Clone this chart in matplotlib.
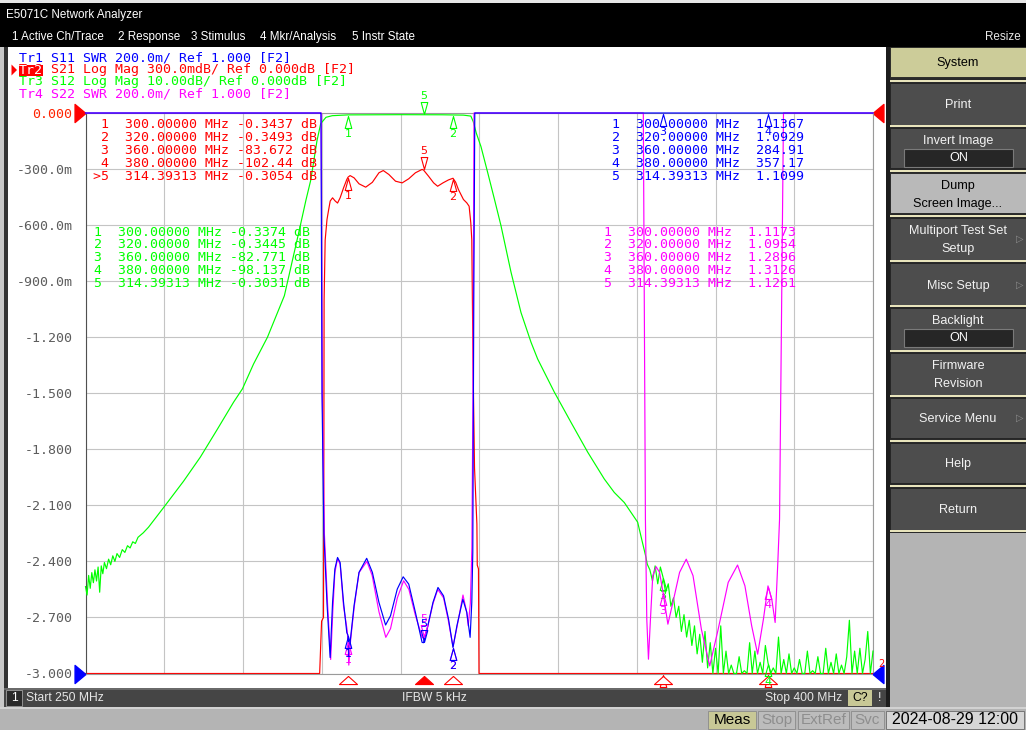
import matplotlib
matplotlib.use("Agg")
import matplotlib.pyplot as plt
import matplotlib.transforms as mtransforms
from matplotlib.patches import Rectangle, Polygon
import numpy as np

# ---------------- sweep settings ----------------
f_start, f_stop = 250.0, 400.0
ifbw = "5 kHz"

# ---------------- Tr1 S11 SWR (values above 3 sit on the top edge) ----------------
s11_f = [250.0, 280.0, 294.7, 294.85, 295.05, 295.4, 296.0, 296.6, 297.06, 297.5,
         298.01, 298.5, 299.15, 299.77, 300.0, 300.2, 300.4, 301.16, 302.1, 303.56,
         304.64, 305.89, 307.16, 308.1, 309.38, 310.51, 311.57, 312.84, 314.11, 314.39313,
         315.06, 316.19, 317.14, 318.2, 319.15, 320.0, 320.74, 321.88, 322.63, 323.26,
         323.58, 323.77, 323.96, 324.15, 340.0, 360.0, 380.0, 400.0]
s11_swr = [60.0, 30.0, 8.0, 3.0, 2.0, 1.5, 1.25, 1.057, 1.254, 1.373,
           1.414, 1.396, 1.254, 1.146, 1.1367, 1.09, 1.111, 1.243, 1.361, 1.411,
           1.361, 1.254, 1.173, 1.206, 1.301, 1.345, 1.319, 1.218, 1.111, 1.1099,
           1.158, 1.254, 1.307, 1.277, 1.194, 1.0929, 1.170, 1.265, 1.218, 1.129,
           1.254, 1.432, 2.33, 3.2, 120.0, 284.91, 357.17, 150.0]

# ---------------- Tr2 S21 log mag, dB (below -3 dB sits on the bottom edge) ----------------
s21_f = [250.0, 270.0, 285.0, 292.0, 294.6, 294.97, 295.33, 295.38, 295.45, 295.65,
         296.0, 296.3, 296.61, 297.06, 297.56, 298.01, 298.5, 299.15, 299.77, 300.0,
         300.4, 301.16, 302.1, 303.37, 304.64, 305.89, 306.72, 307.78, 309.05, 310.32,
         311.57, 312.84, 314.11, 314.39313, 315.36, 316.31, 317.07, 318.09, 319.15, 320.0,
         320.5, 321.04, 321.99, 322.63, 323.07, 323.39, 323.58, 323.8, 324.1, 324.55,
         324.62, 324.85, 324.95, 330.0, 340.0, 350.0, 360.0, 370.0, 380.0, 390.0, 400.0]
s21_db = [-85.0, -62.0, -38.0, -15.0, -5.0, -2.72, -2.70, -2.17, -1.0, -0.68,
          -0.57, -0.52, -0.471, -0.454, -0.471, -0.482, -0.454, -0.401, -0.356, -0.3437,
          -0.335, -0.347, -0.379, -0.397, -0.371, -0.320, -0.308, -0.329, -0.365, -0.374,
          -0.352, -0.320, -0.302, -0.3054, -0.339, -0.374, -0.392, -0.374, -0.358, -0.3493,
          -0.37, -0.410, -0.463, -0.481, -0.499, -0.588, -0.678, -1.3, -1.9, -2.2,
          -2.42, -2.44, -4.0, -25.0, -50.0, -68.0, -83.672, -97.0, -102.44, -104.0, -106.0]

# ---------------- Tr3 S12 log mag, dB ----------------
s12_f = [250.0, 250.3, 250.6, 250.9, 251.2, 251.5, 251.8, 252.1, 252.4, 252.7,
         253.0, 253.3, 253.6, 254.0, 254.4, 254.8, 255.2, 255.6, 256.0, 256.5,
         257.0, 257.5, 258.0, 258.5, 259.0, 259.5, 260.0, 261.0, 262.0, 264.87,
         268.67, 271.87, 275.0, 278.2, 279.9, 282.0, 284.66, 287.88, 290.7, 292.0,
         292.9, 294.1, 294.8, 295.8, 297.0, 298.5, 300.0, 305.0, 310.0, 314.39313,
         318.0, 320.0, 322.0, 323.4, 323.86, 324.43, 325.33, 326.6, 327.87, 329.14,
         331.05, 332.95, 334.86, 336.13, 339.3, 342.48, 345.65, 348.82, 350.72, 352.63,
         355.17, 356.76]
s12_db = [-84.5, -86.0, -82.5, -84.8, -82.0, -83.8, -81.5, -83.5, -81.0, -85.5,
          -80.8, -82.2, -80.2, -81.3, -79.6, -80.6, -79.0, -80.0, -78.6, -79.3,
          -77.9, -78.4, -77.2, -77.6, -76.5, -76.8, -75.7, -74.9, -73.9, -70.4,
          -65.7, -61.4, -56.6, -51.6, -49.2, -44.8, -40.0, -32.6, -21.0, -15.5,
          -12.0, -4.9, -1.9, -0.77, -0.48, -0.40, -0.3374, -0.31, -0.30, -0.3031,
          -0.32, -0.3445, -0.38, -0.55, -1.55, -3.57, -6.0, -10.6, -15.3, -20.1,
          -28.4, -35.6, -40.9, -43.9, -49.8, -55.2, -60.5, -65.3, -67.7, -69.5,
          -73.0, -79.3]
# noisy stop band, one reading every 0.5 MHz from 357 MHz to 400 MHz
s12_tail_db = [-80.5, -81.5, -83.5, -80.8, -84.0, -81.0, -82.8, -85.5, -84.0, -88.0,
               -86.5, -90.0, -88.0, -92.5, -89.5, -93.5, -90.5, -95.0, -91.5, -96.5,
               -93.0, -98.0, -92.5, -99.0, -94.5, -100.5, -95.5, -104.0, -91.5, -103.0,
               -96.0, -106.0, -98.5, -101.0, -105.0, -97.0, -108.0, -99.5, -104.0, -94.5,
               -102.0, -96.0, -107.0, -98.0, -103.0, -95.0, -98.1, -106.0, -99.0, -104.0,
               -93.5, -105.0, -97.5, -102.0, -96.5, -107.0, -99.0, -103.0, -97.5, -108.0,
               -100.0, -96.0, -105.0, -99.5, -106.0, -97.0, -103.0, -104.0, -95.5, -106.0,
               -98.0, -102.0, -96.5, -108.0, -98.5, -103.0, -97.0, -90.5, -106.0, -96.0,
               -101.0, -95.5, -107.0, -97.5, -92.5, -104.0, -96.0]
s12_tail_f = np.arange(357.0, 400.25, 0.5)

# ---------------- Tr4 S22 SWR ----------------
s22_f = [250.0, 280.0, 294.7, 294.9, 295.1, 295.5, 296.1, 296.7, 297.1, 297.5,
         298.0, 298.5, 299.15, 299.8, 300.0, 300.15, 300.5, 301.2, 302.1, 303.6,
         304.6, 305.9, 307.2, 308.1, 309.4, 310.6, 311.6, 312.8, 314.1, 314.39313,
         315.1, 316.2, 317.1, 318.2, 319.1, 320.0, 320.7, 321.9, 322.6, 322.9,
         323.3, 323.6, 323.8, 324.0, 340.0, 356.25, 356.65, 356.91, 357.23, 357.61,
         358.05, 358.69, 359.34, 360.0, 360.93, 361.89, 363.16, 364.43, 365.72, 367.31,
         368.9, 370.51, 372.42, 374.2, 375.6, 376.89, 378.03, 379.13, 380.0, 380.72,
         381.36, 381.87, 382.2, 382.95, 390.0, 400.0]
s22_swr = [60.0, 30.0, 8.0, 3.0, 2.0, 1.5, 1.25, 1.05, 1.22, 1.36,
           1.41, 1.39, 1.24, 1.16, 1.1173, 1.03, 1.12, 1.24, 1.36, 1.40,
           1.35, 1.22, 1.129, 1.16, 1.27, 1.331, 1.30, 1.21, 1.13, 1.1261,
           1.16, 1.25, 1.30, 1.27, 1.19, 1.0954, 1.16, 1.28, 1.22, 1.17,
           1.25, 1.45, 2.0, 3.2, 100.0, 3.0, 1.551, 1.194, 1.051, 1.194,
           1.349, 1.381, 1.361, 1.2896, 1.176, 1.254, 1.361, 1.408, 1.349, 1.158,
           1.027, 1.158, 1.325, 1.387, 1.313, 1.170, 1.069, 1.194, 1.3126, 1.265,
           1.182, 1.396, 1.551, 3.2, 80.0, 150.0]

# ---------------- marker table ----------------
mk_f = [300.0, 320.0, 360.0, 380.0, 314.39313]
mk_s11 = [1.1367, 1.0929, 284.91, 357.17, 1.1099]
mk_s21 = [-0.3437, -0.3493, -83.672, -102.44, -0.3054]
mk_s12 = [-0.3374, -0.3445, -82.771, -98.137, -0.3031]
mk_s22 = [1.1173, 1.0954, 1.2896, 1.3126, 1.1261]
active_mk = 5

# graticule scales (bottom, top)
scale_s21 = (-3.0, 0.0)    # 300 mdB/div, ref 0 dB at top
scale_s12 = (-100.0, 0.0)  # 10 dB/div, ref 0 dB at top
scale_swr = (1.0, 3.0)     # 200 m/div, ref 1.000 at bottom

y_ticklabels = ["-3.000", "-2.700", "-2.400", "-2.100", "-1.800", "-1.500",
                "-1.200", "-900.0m", "-600.0m", "-300.0m", "0.000"]

trace_names = ["Tr1", "Tr2", "Tr3", "Tr4"]
trace_desc = ["S11 SWR 200.0m/ Ref 1.000 [F2]",
              "S21 Log Mag 300.0mdB/ Ref 0.000dB [F2]",
              "S12 Log Mag 10.00dB/ Ref 0.000dB [F2]",
              "S22 SWR 200.0m/ Ref 1.000 [F2]"]
menu_bar = ["1 Active Ch/Trace", "2 Response", "3 Stimulus", "4 Mkr/Analysis", "5 Instr State"]
softkeys = ["System", "Print", "Invert Image", "Dump\nScreen Image...", "Multiport Test Set\nSetup",
            "Misc Setup", "Backlight", "Firmware\nRevision", "Service Menu", "Help", "Return"]
status_keys = ["Meas", "Stop", "ExtRef", "Svc"]
clock = "2024-08-29 12:00"

# ---------------- look ----------------
BLUE, RED, GREEN, MAG = '#0000ff', '#ff0000', '#00ff00', '#ff00ff'
MONO, UI = 'DejaVu Sans Mono', 'Liberation Sans'
KEY = '#4d4d4d'
W, H = 1026, 730

fig = plt.figure(figsize=(W / 100, H / 100), dpi=100, facecolor='black')
# top-down pixel coordinates for the instrument chrome
PX = mtransforms.Affine2D().scale(1 / W, -1 / H).translate(0, 1) + fig.transFigure


def box(x0, y0, x1, y1, fc, ec='none', lw=0, z=-1):
    fig.patches.append(Rectangle((x0, y0), x1 - x0, y1 - y0, transform=PX,
                                 facecolor=fc, edgecolor=ec, linewidth=lw, zorder=z))


def say(x, y, s, **kw):
    kw.setdefault('va', 'center')
    return fig.text(x, y, s, transform=PX, **kw)


# ---- window frame ----
box(0, 0, W, 3, '#e6e6e6')
say(6, 15, "E5071C Network Analyzer", color='white', fontsize=8.4, family=UI)
for txt, x in zip(menu_bar, [11.5, 118, 191, 260, 352]):
    say(x, 37, txt, color='white', fontsize=8.4, family=UI)
say(1021, 37, "Resize", color='#e8e8e8', fontsize=8.4, family=UI, ha='right')

box(0, 47, 4, 730, '#c8c8c8')
box(4, 47, 8, 707, '#333333')
box(8, 47, 886, 688, 'white')

# ---- trace header lines ----
for i, (nm, desc) in enumerate(zip(trace_names, trace_desc)):
    col = [BLUE, RED, GREEN, MAG][i]
    say(19, 58 + 12 * i, nm + " " + desc, color=col, fontsize=9.5, family=MONO)
box(19, 64.5, 43, 76, RED, z=-0.5)
say(19, 70, trace_names[1], color='white', fontsize=9.5, family=MONO)
fig.patches.append(Polygon([(11.5, 64.5), (17, 70), (11.5, 75.5)], closed=True,
                           transform=PX, facecolor=RED, edgecolor='none'))

# ---- graticule ----
rect = [85.5 / W, 1 - 673.5 / H, (873 - 85.5) / W, (673.5 - 113) / H]
ax = fig.add_axes(rect)          # Tr2 scale carries grid and labels
axg = fig.add_axes(rect)         # Tr3
axs = fig.add_axes(rect)         # Tr1 / Tr4

ax.set_xlim(f_start, f_stop)
ax.set_ylim(*scale_s21)
ax.set_xticks(np.linspace(f_start, f_stop, 11))
ax.set_xticklabels([])
ax.set_yticks(np.linspace(scale_s21[0], scale_s21[1], 11), labels=y_ticklabels,
              fontfamily=MONO, fontsize=9.5, color='#5c5c5c')
ax.get_yticklabels()[-1].set_color('#ff2200')
ax.tick_params(length=0)
ax.tick_params(axis='y', pad=9.5)
ax.grid(True, color='#c4c4c4', lw=0.8)
ax.set_facecolor('white')
for side in ['top', 'right', 'bottom']:
    ax.spines[side].set_color('#9a9a9a')
ax.spines['left'].set_color('#505050')
for a in (ax, axg, axs):
    a.spines[:].set_linewidth(0.8)

axg.set_xlim(f_start, f_stop)
axg.set_ylim(*scale_s12)
axg.axis('off')
axs.set_xlim(f_start, f_stop)
axs.set_ylim(*scale_swr)
axs.axis('off')

# traces, clipped to the graticule edge like the analyzer does
lw = 0.85
axg.plot(np.r_[s12_f, s12_tail_f], np.clip(np.r_[s12_db, s12_tail_db], *scale_s12),
         color=GREEN, lw=lw, clip_on=False)
ax.plot(s21_f, np.clip(s21_db, *scale_s21), color=RED, lw=lw, clip_on=False)
axs.plot(s22_f, np.clip(s22_swr, *scale_swr), color=MAG, lw=lw, clip_on=False)
axs.plot(s11_f, np.clip(s11_swr, *scale_swr), color=BLUE, lw=lw, clip_on=False)

# ---- markers ----
TRI_UP = [(0, 1), (-0.55, -1), (0.55, -1), (0, 1)]
TRI_DN = [(0, -1), (-0.55, 1), (0.55, 1), (0, -1)]
TRI_WIDE = [(0, 0.45), (-1, -0.45), (1, -0.45), (0, 0.45)]
REF_R = [(0.6, 0), (-0.6, 1), (-0.6, -1), (0.6, 0)]
REF_L = [(-0.6, 0), (0.6, 1), (0.6, -1), (-0.6, 0)]


def put_marker(a, f, v, num, color, lo, hi):
    above = (num == active_mk)
    show_label = True
    if v > hi:
        base = mtransforms.blended_transform_factory(a.transData, a.transAxes)
        v, above = 1.0, False
    elif v < lo:
        base = mtransforms.blended_transform_factory(a.transData, a.transAxes)
        v, above, show_label = 0.0, False, False
    else:
        base = a.transData
    s = 1 if above else -1
    t_tri = mtransforms.offset_copy(base, fig=fig, x=0, y=s * 7, units='dots')
    t_lab = mtransforms.offset_copy(base, fig=fig, x=0, y=s * 19, units='dots')
    a.plot([f], [v], transform=t_tri, ls='none', marker=TRI_DN if above else TRI_UP,
           ms=8.6, mfc='none', mec=color, mew=0.8, clip_on=False)
    if show_label:
        a.text(f, v, str(num), transform=t_lab, color=color, ha='center', va='center',
               fontsize=8, family='DejaVu Sans', clip_on=False)


for k in range(5):
    put_marker(axg, mk_f[k], mk_s12[k], k + 1, GREEN, *scale_s12)
    put_marker(ax, mk_f[k], mk_s21[k], k + 1, RED, *scale_s21)
    put_marker(axs, mk_f[k], mk_s22[k], k + 1, MAG, *scale_swr)
    put_marker(axs, mk_f[k], mk_s11[k], k + 1, BLUE, *scale_swr)

# stimulus markers of the active trace under the graticule
bot = mtransforms.blended_transform_factory(ax.transData, ax.transAxes)
bot_tri = mtransforms.offset_copy(bot, fig=fig, x=0, y=-6.5, units='dots')
for k, f in enumerate(mk_f):
    filled = (k + 1 == active_mk)
    ax.plot([f], [0], transform=bot_tri, ls='none', marker=TRI_WIDE, ms=13,
            mfc=RED if filled else 'white', mec=RED, mew=0.8, clip_on=False)

# reference level arrows
for a, yv, col in [(ax, scale_s21[1], RED), (axs, scale_swr[0], BLUE)]:
    side = mtransforms.blended_transform_factory(a.transAxes, a.transData)
    a.plot([0], [yv], transform=mtransforms.offset_copy(side, fig=fig, x=-5.4, y=0, units='dots'),
           ls='none', marker=REF_R, ms=13, color=col, clip_on=False)
    a.plot([1], [yv], transform=mtransforms.offset_copy(side, fig=fig, x=5.4, y=0, units='dots'),
           ls='none', marker=REF_L, ms=13, color=col, clip_on=False)
say(881, 664, "2", color=RED, fontsize=7, family='DejaVu Sans', ha='center')

# ---- marker readouts ----
def fmt(v):
    return f"{v:.5g}"


for k in range(5):
    n = k + 1
    flag = '>' if n == active_mk else ' '
    y1 = 125 + 12.9 * k
    y2 = 232 + 12.9 * k
    say(93, y1, f"{flag}{n}  {mk_f[k]:.5f} MHz {fmt(mk_s21[k]):>7} dB", color=RED, fontsize=9.5, family=MONO)
    say(612, y1, f"{n}  {mk_f[k]:.5f} MHz  {fmt(mk_s11[k]):>6}", color=BLUE, fontsize=9.5, family=MONO)
    say(94, y2, f"{n}  {mk_f[k]:.5f} MHz {fmt(mk_s12[k]):>7} dB", color=GREEN, fontsize=9.5, family=MONO)
    say(604, y2, f"{n}  {mk_f[k]:.5f} MHz  {fmt(mk_s22[k]):>6}", color=MAG, fontsize=9.5, family=MONO)

# ---- channel status bar ----
box(4, 688, 886, 707, '#454545')
box(4, 688, 886, 689.5, '#6a6a6a')
box(6, 690, 22, 706, '#2a2a2a', ec='#a0a0a0', lw=0.6)
say(14, 698, "1", color='white', fontsize=8.7, family=UI, ha='center')
say(26, 698, f"Start {f_start:.0f} MHz", color='#e6e6e6', fontsize=8.7, family=UI)
say(434, 698, f"IFBW {ifbw}", color='#e6e6e6', fontsize=8.7, family=UI, ha='center')
say(842, 698, f"Stop {f_stop:.0f} MHz", color='#e6e6e6', fontsize=8.7, family=UI, ha='right')
box(848, 690, 872, 706, '#c8c896')
say(860, 698, "C?", color='black', fontsize=8.7, family=UI, ha='center')
say(880, 698, "!", color='white', fontsize=8.7, family=UI, ha='center')

# ---- instrument status bar ----
box(0, 707, W, 730, '#b4b4b4')
box(0, 707, W, 709, '#d2d2d2')
for txt, (x0, x1) in zip(status_keys, [(708, 756), (758, 795), (798, 849), (851, 884)]):
    on = txt == "Meas"
    box(x0, 711, x1, 729, '#c8c896' if on else '#bcbcbc', ec='#8a8a8a', lw=0.6)
    say((x0 + x1) / 2, 720, txt, color='black' if on else '#8e8e8e', fontsize=11, family=UI, ha='center')
box(886, 711, 1024, 729, '#d6d6d6', ec='#6a6a6a', lw=0.6)
say(955, 720, clock, color='black', fontsize=11.5, family=UI, ha='center')

# ---- softkey column ----
box(886, 47, 890, 707, '#1c1c1c')
box(890, 47, W, 533, '#2a2a2a')
box(890, 533, W, 707, '#b4b4b4')
key_tops = [47, 83, 128, 173, 218, 263, 308, 353, 398, 443, 488]
key_bots = [77, 125, 168, 213, 260, 307, 350, 395, 438, 483, 530]
for k, (lab, y0, y1) in enumerate(zip(softkeys, key_tops, key_bots)):
    face, ink = KEY, '#f2f2f2'
    if k == 0:
        face, ink = '#cccc99', 'black'
    elif k == 3:
        face, ink = '#b9b9b9', 'black'
    if k > 0:
        box(890, y0 - 3, W, y0 - 1.5, '#e8e4bc')
    box(890, y0, W, y1, face, ec='#222222', lw=0.6)
    lines = lab.split("\n")
    if lab in ("Invert Image", "Backlight"):
        say(958, y0 + 13, lab, color=ink, fontsize=9.1, family=UI, ha='center')
        box(904, y0 + 21, 1013, y0 + 39, '#262626', ec='#7a7a7a', lw=0.8)
        say(958.5, y0 + 30, "ON", color='white', fontsize=9.1, family=UI, ha='center')
    elif len(lines) == 2:
        say(958, y0 + 13, lines[0], color=ink, fontsize=9.1, family=UI, ha='center')
        say(958, y0 + 31, lines[1], color=ink, fontsize=9.1, family=UI, ha='center')
    else:
        say(958, (y0 + y1) / 2 + 1, lab, color=ink, fontsize=9.1, family=UI, ha='center')
    if lab.startswith(("Multiport", "Misc", "Service")):
        say(1020, (y0 + y1) / 2, "\u25b7", color='#8c8c8c', fontsize=7, family='DejaVu Sans', ha='center')
box(890, 530, W, 532, '#e8e4bc')

fig.savefig("out.png", dpi=100, facecolor=fig.get_facecolor())
